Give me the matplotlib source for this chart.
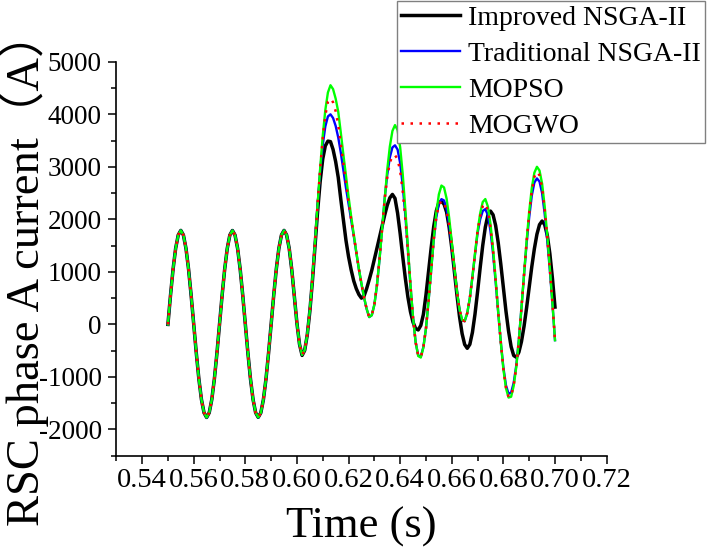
import numpy as np
import matplotlib.pyplot as plt
from matplotlib.ticker import MultipleLocator, FormatStrFormatter

plt.rcParams['font.family'] = ['Liberation Serif', 'Noto Sans CJK SC']
plt.rcParams['axes.unicode_minus'] = False

# time before the fault, same for all four methods (s)
t_pre = np.round(np.arange(550, 598) * 0.001, 3)
i_pre = [0, 553, 1052, 1448, 1702, 1790, 1702, 1448, 1052, 553,
         0, -547, -1040, -1432, -1683, -1772, -1683, -1432, -1040, -547,
         0, 553, 1052, 1448, 1702, 1788, 1702, 1448, 1052, 553,
         0, -547, -1040, -1432, -1683, -1770, -1683, -1432, -1040, -547,
         0, 553, 1052, 1448, 1702, 1790, 1702, 1448]

# after 0.598 s
t_post = np.round(np.arange(598, 701) * 0.001, 3)

improved_post = [1040, 520, 20, -380, -590, -495, -200, 250, 830, 1480,
                 2150, 2720, 3150, 3400, 3490, 3480, 3330, 3100, 2800, 2380,
                 1990, 1600, 1290, 1040, 830, 680, 570, 500, 540, 680,
                 850, 1030, 1240, 1450, 1660, 1870, 2080, 2270, 2410, 2475,
                 2400, 2120, 1730, 1290, 880, 520, 240, 40, -80, -105,
                 -20, 190, 560, 1000, 1450, 1860, 2160, 2320, 2345, 2290,
                 2138, 1844, 1459, 1010, 563, 149, -175, -383, -455, -380,
                 -152, 196, 622, 1078, 1504, 1852, 2080, 2158, 2087, 1883,
                 1555, 1147, 700, 252, -127, -424, -593, -625, -530, -329,
                 -38, 318, 710, 1096, 1438, 1717, 1899, 1968, 1900, 1700,
                 1350, 880, 330]

traditional_post = [1040, 520, 20, -380, -580, -490, -189, 271, 871, 1552,
                    2270, 2920, 3420, 3770, 3960, 4000, 3930, 3780, 3560, 3270,
                    2930, 2600, 2300, 1990, 1690, 1370, 1050, 770, 510, 295,
                    140, 175, 375, 743, 1240, 1815, 2400, 2850, 3180, 3370,
                    3410, 3330, 3070, 2640, 2080, 1420, 730, 120, -340, -590,
                    -615, -430, -77, 447, 1030, 1600, 2040, 2300, 2385, 2360,
                    2200, 1900, 1500, 1060, 620, 280, 80, 60, 215, 500,
                    900, 1330, 1740, 2000, 2160, 2195, 2080, 1780, 1350, 810,
                    220, -340, -820, -1160, -1320, -1300, -1110, -780, -290, 310,
                    940, 1540, 2040, 2450, 2700, 2780, 2720, 2500, 2110, 1610,
                    1030, 400, -300]

mopso_post = [1040, 520, 20, -380, -580, -490, -189, 271, 871, 1552,
              2278, 2972, 3592, 4083, 4415, 4554, 4480, 4300, 4050, 3650,
              3230, 2830, 2430, 2060, 1720, 1380, 1060, 780, 520, 300,
              140, 175, 375, 743, 1240, 1815, 2405, 2947, 3388, 3683,
              3795, 3699, 3373, 2857, 2195, 1464, 746, 128, -343, -603,
              -631, -440, -77, 447, 1034, 1619, 2121, 2476, 2644, 2608,
              2395, 2026, 1572, 1084, 629, 287, 84, 64, 217, 501,
              906, 1353, 1777, 2113, 2331, 2387, 2243, 1913, 1439, 859,
              240, -341, -854, -1214, -1393, -1377, -1170, -812, -303, 311,
              955, 1590, 2148, 2594, 2887, 3001, 2930, 2680, 2250, 1700,
              1080, 420, -300]

mogwo_post = [1040, 520, 20, -380, -580, -490, -189, 271, 871, 1552,
              2278, 2960, 3540, 3980, 4240, 4300, 4230, 4060, 3800, 3430,
              3050, 2680, 2330, 2000, 1700, 1375, 1055, 775, 515, 298,
              140, 175, 375, 743, 1240, 1815, 2380, 2800, 3080, 3210,
              3220, 3150, 2920, 2530, 2010, 1400, 730, 120, -340, -595,
              -625, -435, -77, 447, 1034, 1610, 2030, 2280, 2350, 2320,
              2170, 1880, 1480, 1060, 620, 282, 82, 62, 216, 500,
              904, 1345, 1780, 2060, 2250, 2300, 2170, 1850, 1400, 835,
              230, -340, -845, -1200, -1380, -1365, -1160, -805, -300, 311,
              950, 1575, 2110, 2530, 2810, 2905, 2840, 2600, 2190, 1660,
              1060, 410, -300]

t = np.concatenate([t_pre, t_post])

fig = plt.figure(figsize=(7.07, 5.47), dpi=100)
ax = fig.add_axes([0.1645, 0.1669, 0.6935, 0.7201])

ax.plot(t, i_pre + improved_post, color='black', lw=2.5, label='Improved NSGA-II')
ax.plot(t, i_pre + traditional_post, color='#0000ff', lw=1.7, label='Traditional NSGA-II')
ax.plot(t, i_pre + mopso_post, color='#00ff00', lw=1.7, label='MOPSO')
ax.plot(t, i_pre + mogwo_post, color='#ff0000', lw=1.8, linestyle=(0, (1, 2.6)), label='MOGWO')

ax.set_xlim(0.53, 0.72)
ax.set_ylim(-2500, 5000)
ax.xaxis.set_major_locator(MultipleLocator(0.02))
ax.xaxis.set_minor_locator(MultipleLocator(0.01))
ax.xaxis.set_major_formatter(FormatStrFormatter('%.2f'))
ax.yaxis.set_minor_locator(MultipleLocator(500))
ax.set_yticks([-2000, -1000, 0, 1000, 2000, 3000, 4000, 5000])

for s in ['top', 'right']:
    ax.spines[s].set_visible(False)
for s in ['left', 'bottom']:
    ax.spines[s].set_linewidth(1.2)

ax.tick_params(which='major', direction='out', length=5.5, width=1.1)
ax.tick_params(which='minor', direction='out', length=3.5, width=1.1)
ax.tick_params(axis='x', which='major', labelsize=20.5, pad=3)
ax.tick_params(axis='y', which='major', labelsize=19.5, pad=5)

ax.set_xlabel('Time (s)', fontsize=32)
ax.set_ylabel('RSC phase A current（A）', fontsize=33.5)
ax.xaxis.set_label_coords(0.5, -0.128)
ax.yaxis.set_label_coords(-0.137, 0.475)

leg = ax.legend(loc='upper right', bbox_to_anchor=(0.997, 0.998), bbox_transform=fig.transFigure,
                fontsize=20, frameon=True, fancybox=False, borderpad=0.15, borderaxespad=0,
                handlelength=2.1, handletextpad=0.3, labelspacing=0.38)
leg.get_frame().set_edgecolor('#808080')
leg.get_frame().set_linewidth(1.0)
leg.get_frame().set_alpha(1)

plt.savefig('out.png', dpi=100)
